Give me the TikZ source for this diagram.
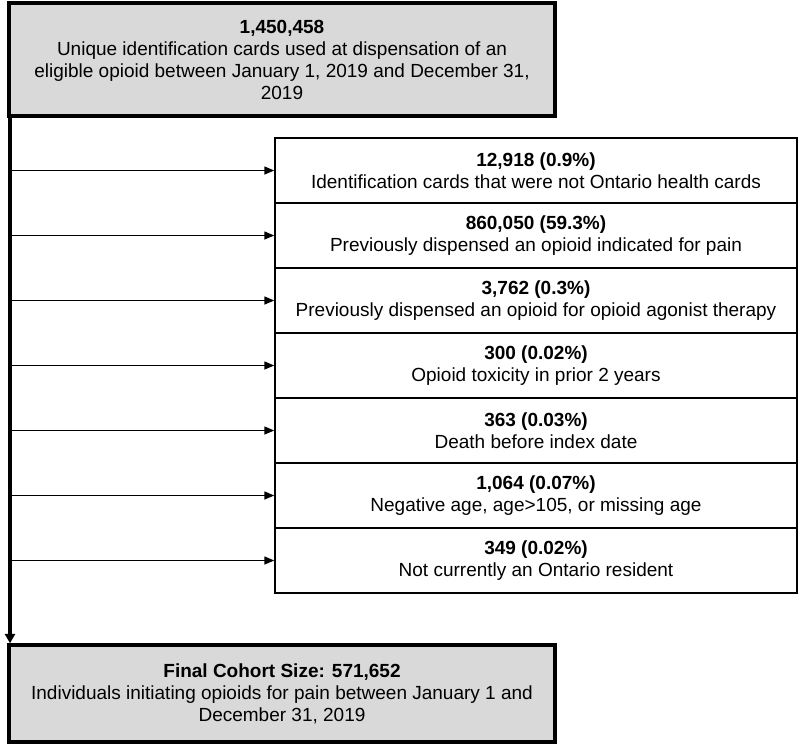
\documentclass[tikz,border=0pt]{standalone}
\usepackage{fontspec}
\setmainfont{Liberation Sans}
\usepackage{tikz}
\usetikzlibrary{arrows.meta}
\usetikzlibrary{calc}
\definecolor{boxgray}{HTML}{D9D9D9}
\tikzset{l/.style={font=\fontsize{14.25}{16.5}\selectfont}}
\tikzset{big/.style={l, draw, fill=boxgray, line width=2.6pt, align=center, inner sep=0pt, minimum width=409.5pt}}
\tikzset{excl/.style={l, draw, line width=1.1pt, align=center, inner sep=0pt, minimum width=391.5pt, minimum height=48.75pt}}
\tikzset{feed/.style={line width=1.1pt, -{Triangle[length=7.5pt,width=6pt]}}}

\begin{document}
\begin{tikzpicture}[x=0.75pt, y=-0.75pt]
          \useasboundingbox (0,0) rectangle (800,744);
          \node [big, minimum height=84.75pt] (start) at (282,59.5)
            {\textbf{1,450,458}\\Unique identification cards used at dispensation of an\\eligible opioid between January 1, 2019 and December 31,\\2019};
          \node [big, minimum height=72.75pt] (final) at (282,693.5)
            {\textbf{Final Cohort Size: 571,652}\\Individuals initiating opioids for pain between January 1 and\\December 31, 2019};
          \coordinate (spine) at (10,0);
          \draw [line width=2.6pt, -{Triangle[length=7pt,width=7.5pt]}] (spine |- start.south) -- (spine |- final.north);
          \node [excl] (cards) at (536,170.5) {\textbf{12,918 (0.9\%)}\\Identification cards that were not Ontario health cards};
          \node [excl] (pain) at (536,235.5) {\textbf{860,050 (59.3\%)}\\Previously dispensed an opioid indicated for pain};
          \node [excl] (oat) at (536,300.5) {\textbf{3,762 (0.3\%)}\\Previously dispensed an opioid for opioid agonist therapy};
          \node [excl] (tox) at (536,365.5) {\textbf{300 (0.02\%)}\\Opioid toxicity in prior 2 years};
          \node [excl] (death) at (536,430.5) {\textbf{363 (0.03\%)}\\Death before index date};
          \node [excl] (age) at (536,495.5) {\textbf{1,064 (0.07\%)}\\Negative age, age>105, or missing age};
          \node [excl] (res) at (536,560.5) {\textbf{349 (0.02\%)}\\Not currently an Ontario resident};
          \draw [feed] (spine |- cards.west) -- (cards.west);
          \draw [feed] (spine |- pain.west) -- (pain.west);
          \draw [feed] (spine |- oat.west) -- (oat.west);
          \draw [feed] (spine |- tox.west) -- (tox.west);
          \draw [feed] (spine |- death.west) -- (death.west);
          \draw [feed] (spine |- age.west) -- (age.west);
          \draw [feed] (spine |- res.west) -- (res.west);
        \end{tikzpicture}
\end{document}
